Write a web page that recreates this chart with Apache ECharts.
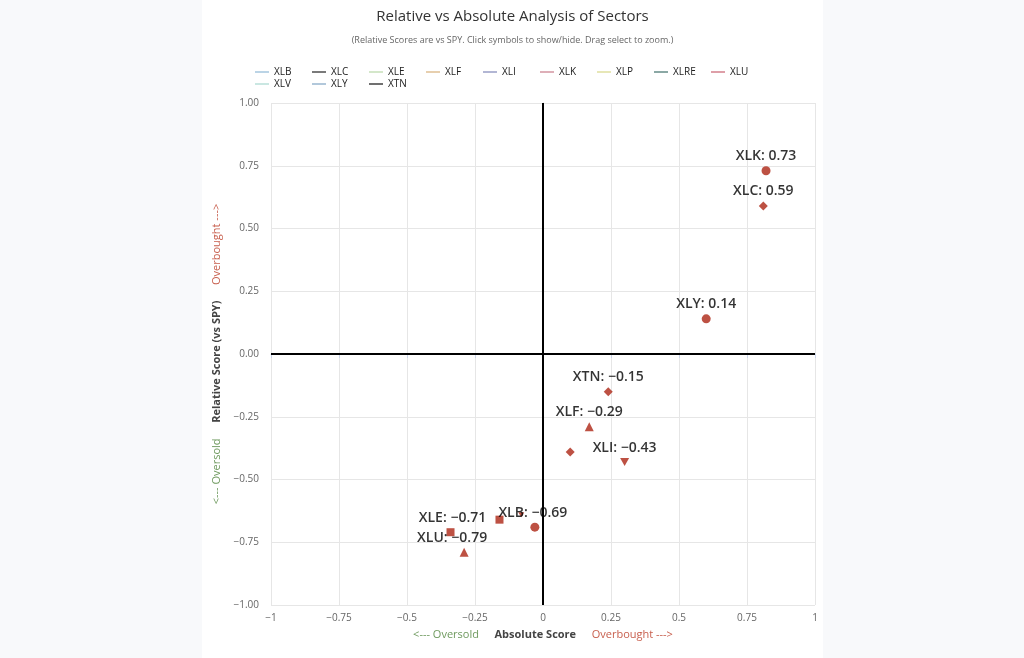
<!DOCTYPE html>
<html>
<head>
<meta charset="utf-8">
<script src="https://cdn.jsdelivr.net/npm/echarts@6/dist/echarts.min.js"></script>
<style>
html,body{margin:0;padding:0;width:1024px;height:658px;background:#f8f9fb;overflow:hidden;}
#chart{position:absolute;left:202px;top:0;width:621px;height:658px;background:#ffffff;}
</style>
</head>
<body>
<div id="chart"></div>
<script>
// ---- data ----
var sectors = ['XLB','XLC','XLE','XLF','XLI','XLK','XLP','XLRE','XLU','XLV','XLY','XTN'];
var absoluteScores = [-0.03, 0.81, -0.34, 0.17, 0.30, 0.82, 0.10, -0.16, -0.29, -0.08, 0.60, 0.24];
var relativeScores = [-0.69, 0.59, -0.71, -0.29, -0.43, 0.73, -0.39, -0.66, -0.79, -0.64, 0.14, -0.15];
var showLabel = [true, true, true, true, true, true, false, false, true, false, true, true];
var legendColors = ['#8fb8d6','#222222','#b8d8a8','#d8b078','#7f86b8','#c87a8a','#d8d888','#3f6f6a','#c85f6f','#a8d8d0','#7fa4c4','#111111'];
var yTickLabels = ['\u22121.00','\u22120.75','\u22120.50','\u22120.25','0.00','0.25','0.50','0.75','1.00'];
var xTickLabels = ['\u22121','\u22120.75','\u22120.5','\u22120.25','0','0.25','0.5','0.75','1'];

var triDown = 'path://M0,0 L10,0 L5,9 Z';
var symbolCycle = ['circle','diamond','rect','triangle',triDown];
var symbolSizes = {circle:9, diamond:9, rect:8, triangle:9};
var labelOffsets = {XLU:[-12,0], XLB:[-2,0], XLE:[2,0]};
var markerColor = '#ad2614';

function fmt(v){ return (v < 0 ? '\u2212' : '') + Math.abs(v).toFixed(2); }

var series = sectors.map(function(name, i){
  var sym = symbolCycle[i % symbolCycle.length];
  var size = sym === triDown ? [9,8] : symbolSizes[sym];
  if (name === 'XLV') size = [6,5];
  var s = {
    name: name,
    type: 'scatter',
    symbol: sym,
    symbolSize: size,
    itemStyle: {color: markerColor},
    data: [[absoluteScores[i], relativeScores[i]]],
    label: {
      show: showLabel[i],
      position: 'top',
      distance: 3,
      offset: labelOffsets[name] || [0,0],
      formatter: function(){ return name + ': ' + fmt(relativeScores[i]); },
      color: '#000',
      fontFamily: 'Open Sans',
      fontWeight: 600,
      fontSize: 14
    },
    z: 5
  };
  if (i === 0) {
    s.markLine = {
      silent: true,
      symbol: ['none','none'],
      label: {show: false},
      lineStyle: {color: '#000', width: 2, type: 'solid'},
      data: [{xAxis: 0}, {yAxis: 0}],
      z: 1
    };
  }
  return s;
});

var chart = echarts.init(document.getElementById('chart'));
chart.setOption({
  animation: false,
  textStyle: {fontFamily: 'Open Sans'},
  title: {
    text: 'Relative vs Absolute Analysis of Sectors',
    subtext: '(Relative Scores are vs SPY. Click symbols to show/hide. Drag select to zoom.)',
    left: 'center',
    top: 4,
    itemGap: 12,
    textStyle: {fontSize: 15, fontWeight: 'normal', color: '#333', fontFamily: 'Open Sans'},
    subtextStyle: {fontSize: 9, color: '#666', fontFamily: 'Open Sans'}
  },
  legend: {
    left: 48,
    top: 62,
    width: 530,
    icon: 'rect',
    itemWidth: 14,
    itemHeight: 1.5,
    itemGap: 2,
    textStyle: {fontSize: 10, color: '#222', width: 36, lineHeight: 10, fontFamily: 'Open Sans'},
    data: sectors.map(function(n, i){ return {name: n, itemStyle: {color: legendColors[i]}}; })
  },
  grid: {left: 69, right: 8, top: 103, bottom: 53},
  xAxis: {
    type: 'value',
    min: -1, max: 1, interval: 0.25,
    name: '{g|<--- Oversold}     {b|Absolute Score}     {r|Overbought --->}',
    nameLocation: 'middle',
    nameGap: 24,
    nameTextStyle: {
      rich: {
        g: {color: '#6f9a5f', fontSize: 11, fontFamily: 'Open Sans'},
        b: {color: '#444', fontSize: 11, fontWeight: 'bold', fontFamily: 'Open Sans'},
        r: {color: '#c8604f', fontSize: 11, fontFamily: 'Open Sans'}
      }
    },
    axisLine: {show: true, lineStyle: {color: '#ccd6eb'}},
    axisTick: {show: true, length: 4, lineStyle: {color: '#ccd6eb'}},
    axisLabel: {
      color: '#666', fontSize: 10, margin: 8,
      formatter: function(v){ return xTickLabels[Math.round((v + 1) / 0.25)]; }
    },
    splitLine: {show: true, lineStyle: {color: '#e6e6e6'}}
  },
  yAxis: {
    type: 'value',
    min: -1, max: 1, interval: 0.25,
    name: '{g|<--- Oversold}     {b|Relative Score (vs SPY)}     {r|Overbought --->}',
    nameLocation: 'middle',
    nameRotate: 90,
    nameGap: 45,
    nameTextStyle: {
      rich: {
        g: {color: '#6f9a5f', fontSize: 11, fontFamily: 'Open Sans'},
        b: {color: '#444', fontSize: 11, fontWeight: 'bold', fontFamily: 'Open Sans'},
        r: {color: '#c8604f', fontSize: 11, fontFamily: 'Open Sans'}
      }
    },
    axisLine: {show: true, lineStyle: {color: '#d8d8d8'}},
    axisTick: {show: false},
    axisLabel: {
      color: '#666', fontSize: 10, margin: 12,
      formatter: function(v){ return yTickLabels[Math.round((v + 1) / 0.25)]; }
    },
    splitLine: {show: true, lineStyle: {color: '#e6e6e6'}}
  },
  series: series
});
</script>
</body>
</html>
